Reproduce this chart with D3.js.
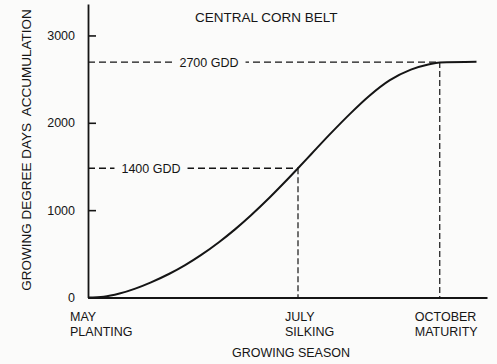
<!DOCTYPE html>
<html><head><meta charset="utf-8">
<script src="https://cdn.jsdelivr.net/npm/d3@7"></script>
<style>
html,body{margin:0;padding:0;background:#fbfbfa;}
svg{display:block;font-family:"Liberation Sans",Arial,sans-serif;}
text{fill:#151515;}
</style></head>
<body><svg id="c" width="497" height="364"></svg>
<script>
// Days after planting and accumulated growing degree days
const days = [0, 6, 12, 18, 24, 31, 37, 43, 50, 56, 62, 69, 75, 80, 85, 92, 100, 107, 115, 123, 130, 134, 148];
const gdd  = [0, 9, 45, 102, 174, 272, 371, 485, 636, 780, 939, 1139, 1322, 1480, 1640, 1864, 2108, 2304, 2488, 2608, 2671, 2691, 2700];
const yTicks = [0, 1000, 2000, 3000];
const stageDays = [0, 80, 134];
const stageMonth = ["MAY", "JULY", "OCTOBER"];
const stageName = ["PLANTING", "SILKING", "MATURITY"];
const markerDays = [80, 134];
const markerGdd = [1480, 2695];
const markerLabels = ["1400 GDD", "2700 GDD"];
const title = "CENTRAL CORN BELT";
const xTitle = "GROWING SEASON";
const yTitle = "GROWING DEGREE DAYS  ACCUMULATION";

const svg = d3.select("#c");
const ink = "#151515";
const x = d3.scaleLinear().domain([0, 152]).range([88, 487]);
const y = d3.scaleLinear().domain([0, 3360]).range([297.5, 4]);

// guide dashed lines
const labelCx = [151, 209];
markerDays.forEach((d, i) => {
  const yy = y(markerGdd[i]);
  svg.append("line").attr("x1", x(0)).attr("x2", x(d)).attr("y1", yy).attr("y2", yy)
    .attr("stroke", ink).attr("stroke-width", 1.4).attr("stroke-dasharray", "7,4");
  svg.append("line").attr("x1", x(d)).attr("x2", x(d)).attr("y1", yy).attr("y2", y(0))
    .attr("stroke", ink).attr("stroke-width", 1.2).attr("stroke-dasharray", "6,3");
  const t = svg.append("text").attr("x", labelCx[i]).attr("y", yy + 4.5)
    .attr("text-anchor", "middle").attr("font-size", 12.5).text(markerLabels[i]);
  const bb = t.node().getBBox();
  svg.insert("rect", "text:last-of-type").attr("x", bb.x - 7).attr("y", bb.y).attr("width", bb.width + 14)
    .attr("height", bb.height).attr("fill", "#fbfbfa");
  t.raise();
});

// y axis
const yAxis = svg.append("g").attr("transform", `translate(${x(0)},0)`)
  .call(d3.axisLeft(y).tickValues(yTicks).tickSizeInner(-8).tickSizeOuter(0).tickPadding(13).tickFormat(d3.format("d")));
yAxis.select(".domain").attr("stroke", ink).attr("stroke-width", 1.8);
yAxis.selectAll(".tick line").attr("stroke", ink).attr("stroke-width", 1.6);
yAxis.selectAll(".tick text").attr("font-size", 12.5).attr("font-family", "Liberation Sans, Arial, sans-serif").attr("fill", ink);

// x axis
const xAxis = svg.append("g").attr("transform", `translate(0,${y(0)})`)
  .call(d3.axisBottom(x).tickValues([]).tickSizeOuter(0));
xAxis.select(".domain").attr("stroke", ink).attr("stroke-width", 1.8);

// curve
const pts = days.map((d, i) => [d, gdd[i]]);
svg.append("path").datum(pts)
  .attr("d", d3.line().x(d => x(d[0])).y(d => y(d[1])).curve(d3.curveMonotoneX))
  .attr("fill", "none").attr("stroke", ink).attr("stroke-width", 2);

// stage labels
const stageOff = [-18, -13, -25];
stageDays.forEach((d, i) => {
  svg.append("text").attr("x", x(d) + stageOff[i]).attr("y", 320.5).attr("font-size", 12.5).text(stageMonth[i]);
  svg.append("text").attr("x", x(d) + stageOff[i]).attr("y", 335.5).attr("font-size", 12.5).text(stageName[i]);
});

svg.append("text").attr("x", 291).attr("y", 357).attr("text-anchor", "middle").attr("font-size", 12.5).text(xTitle);
svg.append("text").attr("x", 195).attr("y", 21.5).attr("font-size", 13.5).text(title);
svg.append("text").attr("transform", "translate(31,150) rotate(-90)").attr("text-anchor", "middle")
  .attr("font-size", 13.5).attr("xml:space", "preserve").style("white-space", "pre").text(yTitle);
</script></body></html>
